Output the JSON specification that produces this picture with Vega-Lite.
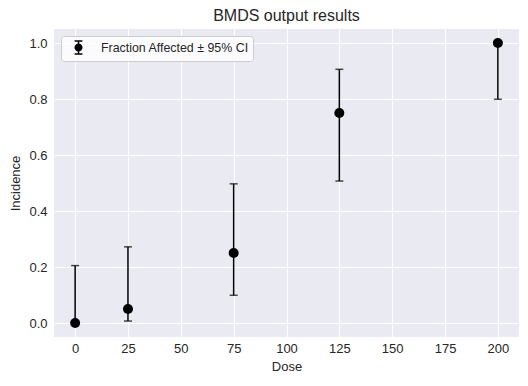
{
  "$schema": "https://vega.github.io/schema/vega-lite/v6.json",
  "width": 465,
  "height": 308,
  "autosize": "none",
  "padding": {"left": 54, "top": 29, "right": 9, "bottom": 49},
  "background": "white",
  "title": {"text": "BMDS output results", "fontSize": 16, "font": "Liberation Sans", "fontWeight": "normal", "color": "#262626", "offset": 5, "anchor": "middle"},
  "config": {
    "view": {"fill": "#EAEAF2", "stroke": null},
    "font": "Liberation Sans",
    "axis": {
      "domain": false, "ticks": false, "grid": true, "gridColor": "white", "gridWidth": 1,
      "labelFont": "Liberation Sans", "labelFontSize": 13, "labelColor": "#262626",
      "titleFont": "Liberation Sans", "titleFontSize": 13, "titleFontWeight": "normal", "titleColor": "#262626"
    }
  },
  "data": {"values": [
    {"dose": 0, "incidence": 0.0, "lower": 0.0, "upper": 0.205},
    {"dose": 25, "incidence": 0.05, "lower": 0.007, "upper": 0.272},
    {"dose": 75, "incidence": 0.25, "lower": 0.099, "upper": 0.497},
    {"dose": 125, "incidence": 0.75, "lower": 0.507, "upper": 0.906},
    {"dose": 200, "incidence": 1.0, "lower": 0.799, "upper": 1.0}
  ]},
  "encoding": {
    "x": {"field": "dose", "type": "quantitative",
      "scale": {"domain": [-10, 210], "nice": false, "zero": false},
      "axis": {"title": "Dose", "values": [0, 25, 50, 75, 100, 125, 150, 175, 200], "labelPadding": 5, "titlePadding": 5}}
  },
  "layer": [
    {
      "mark": {"type": "rule", "color": "black", "strokeWidth": 1.5},
      "encoding": {
        "y": {"field": "lower", "type": "quantitative",
          "scale": {"domain": [-0.05, 1.05], "nice": false, "zero": false},
          "axis": {"title": "Incidence", "values": [0, 0.2, 0.4, 0.6, 0.8, 1.0], "format": ".1f", "labelPadding": 7, "titlePadding": 6}},
        "y2": {"field": "upper"}
      }
    },
    {
      "mark": {"type": "tick", "orient": "horizontal", "color": "black", "size": 8, "thickness": 1.5},
      "encoding": {"y": {"field": "lower", "type": "quantitative"}}
    },
    {
      "mark": {"type": "tick", "orient": "horizontal", "color": "black", "size": 8, "thickness": 1.5},
      "encoding": {"y": {"field": "upper", "type": "quantitative"}}
    },
    {
      "mark": {"type": "point", "filled": true, "opacity": 1, "size": 100, "stroke": "black", "strokeWidth": 0},
      "encoding": {
        "y": {"field": "incidence", "type": "quantitative"},
        "color": {"datum": "Fraction Affected ± 95% CI", "type": "nominal",
          "scale": {"range": ["black"]},
          "legend": {
            "title": null, "orient": "top-left", "offset": 7,
            "padding": 4, "symbolOffset": 6,
            "fillColor": "rgba(255,255,255,0.8)", "strokeColor": "#cccccc", "cornerRadius": 3,
            "symbolType": "M0,-1L0,1M-0.6,-1L0.6,-1M-0.6,1L0.6,1M0.5,0A0.5,0.5,0,1,1,-0.5,0A0.5,0.5,0,1,1,0.5,0Z",
            "symbolSize": 169, "symbolStrokeWidth": 1.5, "symbolStrokeColor": "black",
            "labelFont": "Liberation Sans", "labelFontSize": 12.4, "labelColor": "#262626", "labelOffset": 15,
            "encode": {"symbols": {"update": {
              "shape": {"value": "M0,-1L0,1M-0.6,-1L0.6,-1M-0.6,1L0.6,1M0.5,0A0.5,0.5,0,1,1,-0.5,0A0.5,0.5,0,1,1,0.5,0Z"},
              "size": {"value": 169},
              "stroke": {"value": "black"}, "strokeOpacity": {"value": 1}, "fill": {"value": "black"}, "fillOpacity": {"value": 1},
              "strokeWidth": {"value": 1.5}, "opacity": {"value": 1}}}}
          }
        }
      }
    }
  ]
}
